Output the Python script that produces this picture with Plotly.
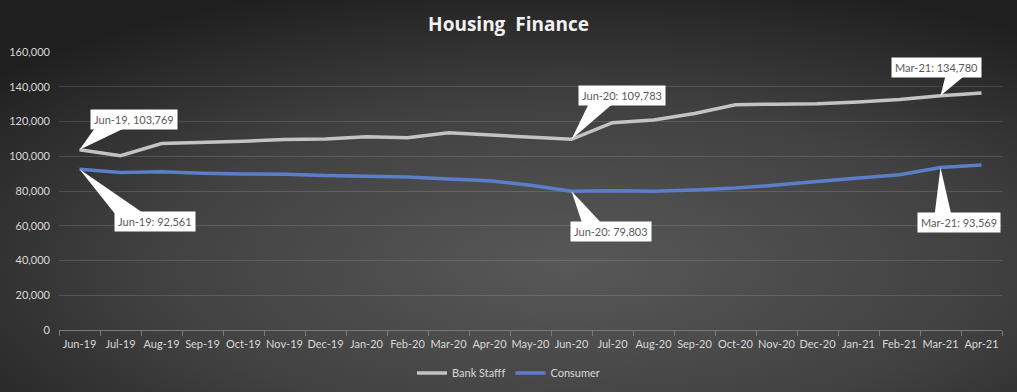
import base64
import plotly.graph_objects as go

# ---------------- data ----------------
months = ['Jun-19', 'Jul-19', 'Aug-19', 'Sep-19', 'Oct-19', 'Nov-19', 'Dec-19',
          'Jan-20', 'Feb-20', 'Mar-20', 'Apr-20', 'May-20', 'Jun-20', 'Jul-20',
          'Aug-20', 'Sep-20', 'Oct-20', 'Nov-20', 'Dec-20', 'Jan-21', 'Feb-21',
          'Mar-21', 'Apr-21']
bank_staff = [103769, 100300, 107300, 107800, 108700, 109600, 109900, 111200,
              110700, 113500, 112300, 111000, 109783, 119300, 120900, 124600,
              129600, 130000, 130200, 131200, 132600, 134780, 136400]
consumer = [92561, 90700, 91100, 90200, 89800, 89700, 88900, 88400, 88000,
            86900, 85900, 83300, 79803, 80100, 79800, 80600, 81700, 83400,
            85700, 87500, 89300, 93569, 95000]
series_names = ['Bank Stafff', 'Consumer']
y_ticks = [0, 20000, 40000, 60000, 80000, 100000, 120000, 140000, 160000]
title_text = 'Housing\u00a0 Finance'

# callouts: (series, month, label)
callouts = [
    ('bank', 'Jun-19', 'Jun-19, 103,769'),
    ('cons', 'Jun-19', 'Jun-19: 92,561'),
    ('bank', 'Jun-20', 'Jun-20: 109,783'),
    ('cons', 'Jun-20', 'Jun-20: 79,803'),
    ('bank', 'Mar-21', 'Mar-21: 134,780'),
    ('cons', 'Mar-21', 'Mar-21: 93,569'),
]
# box offsets (px) and wedge base (px, relative to point; y up)
callout_style = [
    dict(xs=54, ys=30, wedge=(17, 50, 24)),
    dict(xs=75, ys=-52, wedge=(35, 64, -44)),
    dict(xs=50, ys=44, wedge=(18, 43, 37)),
    dict(xs=39, ys=-40, wedge=(11, 31, -33)),
    dict(xs=-4, ys=28, wedge=(5, 24, 20)),
    dict(xs=18, ys=-55, wedge=(-6, 11, -48)),
]

FONT = 'Lato, "Open Sans", sans-serif'
W, H = 1017, 392
ML, MR, MT, MB = 59, 15, 52, 62
PW, PH = W - ML - MR, H - MT - MB

# radial gradient background as svg
svg = f'''<svg xmlns="http://www.w3.org/2000/svg" width="{W}" height="{H}">
<defs><radialGradient id="g" cx="0.56" cy="0.68" r="0.75" fx="0.56" fy="0.68">
<stop offset="0" stop-color="#585858"/><stop offset="0.55" stop-color="#414141"/>
<stop offset="1" stop-color="#1f1f1f"/></radialGradient></defs>
<rect width="{W}" height="{H}" fill="url(#g)"/></svg>'''
bg_src = 'data:image/svg+xml;base64,' + base64.b64encode(svg.encode()).decode()

fig = go.Figure()
fig.add_trace(go.Scatter(x=months, y=bank_staff, name=series_names[0], mode='lines',
                         line=dict(color='#c3c3c3', width=3.5)))
fig.add_trace(go.Scatter(x=months, y=consumer, name=series_names[1], mode='lines',
                         line=dict(color='#5a7fc8', width=3.5)))

series_map = {'bank': bank_staff, 'cons': consumer}
shapes = []
annotations = []
for (s, m, label), st in zip(callouts, callout_style):
    idx = months.index(m)
    val = series_map[s][idx]
    a, b, dy = st['wedge']
    shapes.append(dict(type='path', xref='x', yref='y', xsizemode='pixel', ysizemode='pixel',
                       xanchor=idx, yanchor=val,
                       path=f'M0,0 L{a},{dy} L{b},{dy} Z',
                       fillcolor='white', line=dict(width=0), layer='above'))
    annotations.append(dict(x=m, y=val, xref='x', yref='y', text=label, showarrow=False,
                            xshift=st['xs'], yshift=st['ys'], bgcolor='white',
                            borderpad=3, font=dict(family=FONT, size=11, color='#595959')))

fig.update_layout(
    width=W, height=H,
    margin=dict(l=ML, r=MR, t=MT, b=MB, autoexpand=False),
    paper_bgcolor='#2e2e2e', plot_bgcolor='rgba(0,0,0,0)',
    title=dict(text=title_text, x=0.5, xref='container', xanchor='center',
               y=1 - 24 / H, yanchor='middle',
               font=dict(family='"Open Sans", sans-serif', size=19, color='#f2f2f2',
                         weight='bold')),
    font=dict(family=FONT, size=11, color='#d9d9d9'),
    showlegend=True,
    legend=dict(orientation='h', xref='container', x=0.5, xanchor='center',
                yref='container', y=1 - 373 / H, yanchor='middle',
                font=dict(family=FONT, size=11, color='#d9d9d9'), bgcolor='rgba(0,0,0,0)',
                itemwidth=30),
    shapes=shapes,
    annotations=annotations,
    images=[dict(source=bg_src, xref='paper', yref='paper', x=-ML / PW, y=1 + MT / PH,
                 sizex=W / PW, sizey=H / PH, xanchor='left', yanchor='top',
                 sizing='stretch', layer='below')],
)
fig.update_xaxes(type='category', range=[-0.5, len(months) - 0.5],
                 showgrid=False, showline=True, linecolor='#7a7a7a',
                 linewidth=1, ticks='outside', tickson='boundaries', ticklen=5,
                 tickcolor='#7a7a7a', tickangle=0, ticklabelstandoff=4,
                 tickfont=dict(family=FONT, size=11, color='#d9d9d9'),
                 zeroline=False)
fig.update_yaxes(range=[0, 160000], tickvals=y_ticks, tickformat=',d', showgrid=True,
                 gridcolor='rgba(255,255,255,0.13)', gridwidth=1, zeroline=False,
                 showline=False, ticks='', ticklabelstandoff=8,
                 tickfont=dict(family=FONT, size=11, color='#d9d9d9'))

fig.write_html('out.html', config={'displayModeBar': False},
               post_script="document.body.style.margin='0';document.body.style.background='#2e2e2e';")
